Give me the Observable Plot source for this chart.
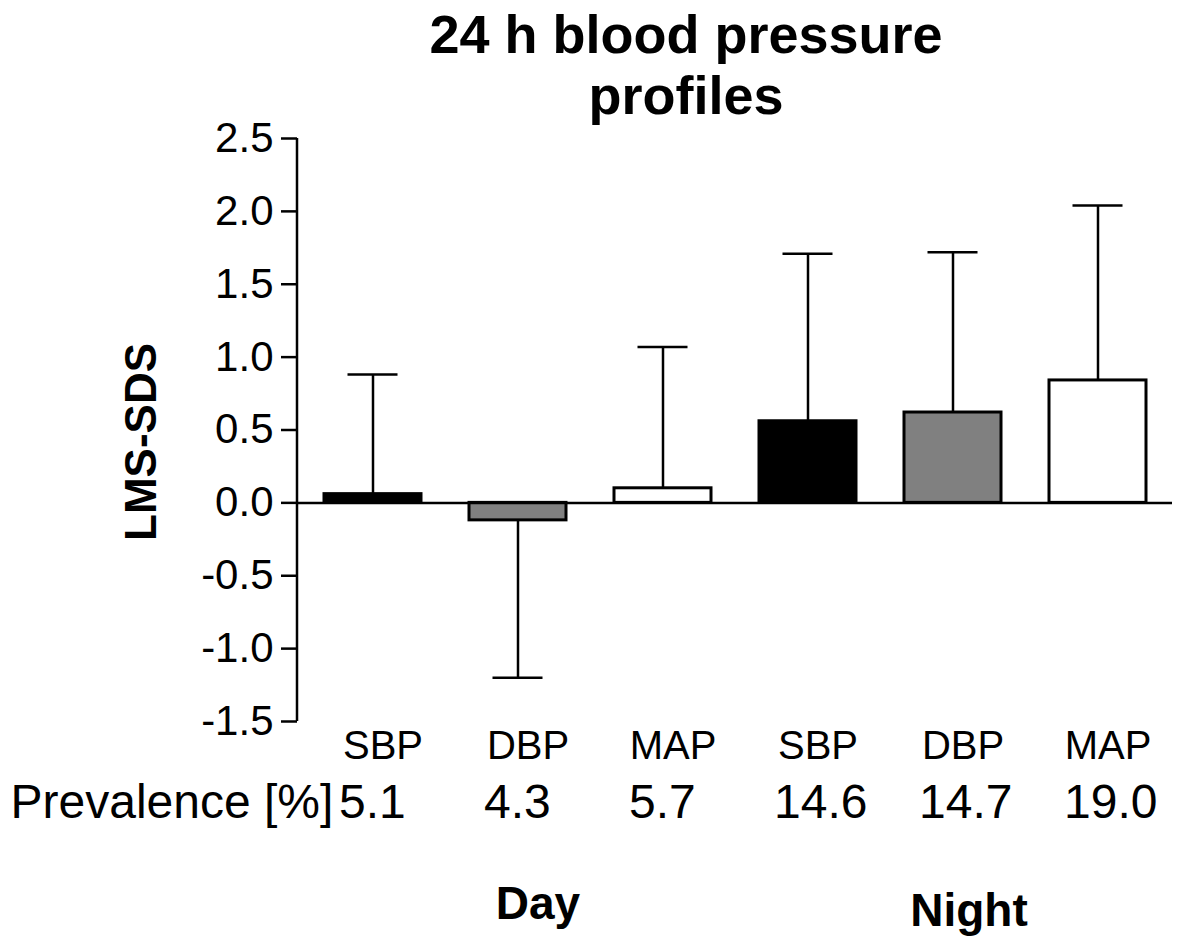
<!DOCTYPE html>
<html>
<head>
<meta charset="utf-8">
<script src="https://cdn.jsdelivr.net/npm/d3@7"></script>
<script src="https://cdn.jsdelivr.net/npm/@observablehq/plot@0.6"></script>
<style>
  html, body { margin: 0; padding: 0; background: white; }
  #title {
    box-sizing: border-box;
    width: 1178px; height: 110px; overflow: visible;
    padding-top: 4px; padding-left: 194px;
    font-family: "Liberation Sans", Arial, sans-serif;
    font-weight: bold; font-size: 54px; line-height: 61px;
    text-align: center; color: black;
  }
</style>
</head>
<body>
<div id="title">24 h blood pressure<br>profiles</div>
<div id="chart"></div>
<script>
// ---- data ----
const keys       = ["Day SBP", "Day DBP", "Day MAP", "Night SBP", "Night DBP", "Night MAP"];
const labels     = ["SBP", "DBP", "MAP", "SBP", "DBP", "MAP"];
const periods    = ["Day", "Day", "Day", "Night", "Night", "Night"];
const means      = [0.06, -0.12, 0.10, 0.56, 0.62, 0.84];
const sds        = [0.82, 1.08, 0.97, 1.15, 1.10, 1.20];
const fills      = ["black", "#808080", "white", "black", "#808080", "white"];
const prevalence = ["5.1", "4.3", "5.7", "14.6", "14.7", "19.0"];
const yTicks     = [-1.5, -1.0, -0.5, 0.0, 0.5, 1.0, 1.5, 2.0, 2.5];
const groupLabels = ["Day", "Night"];
const groupAt     = ["Day DBP", "Night DBP"];
const groupDx     = [20, 16];
const groupDy     = [197, 204];

const rows = keys.map((k, i) => ({
  key: k, label: labels[i], period: periods[i], mean: means[i], sd: sds[i],
  end: means[i] + Math.sign(means[i]) * sds[i], fill: fills[i], prev: prevalence[i]
}));
const groups = groupLabels.map((g, i) => ({label: g, at: groupAt[i], dx: groupDx[i], dy: groupDy[i]}));

const font = "'Liberation Sans', Arial, sans-serif";

const yAxisLine = (index, scales, values, dimensions) => {
  const x = dimensions.marginLeft;
  return d3.create("svg:line")
    .attr("x1", x).attr("x2", x)
    .attr("y1", scales.y(yTicks[yTicks.length - 1]))
    .attr("y2", scales.y(yTicks[0]))
    .attr("stroke", "black").attr("stroke-width", 2.5)
    .node();
};

const chart = Plot.plot({
  width: 1178,
  height: 833,
  marginLeft: 297,
  marginRight: 6,
  marginTop: 28,
  marginBottom: 222,
  style: {fontFamily: font, fontSize: "42px", color: "black", background: "white"},
  x: {domain: keys, paddingInner: 1/3, paddingOuter: 1/6, axis: null},
  y: {domain: [-1.5, 2.5], axis: null},
  marks: [
    Plot.ruleX(rows, {x: "key", y1: "mean", y2: "end", stroke: "black", strokeWidth: 2.5}),
    Plot.tickY(rows, {x: "key", y: "end", stroke: "black", strokeWidth: 2.5, insetLeft: 23.5, insetRight: 23.5}),
    Plot.barY(rows, {x: "key", y: "mean", fill: "fill", stroke: "black", strokeWidth: 3}),
    Plot.ruleY([0], {stroke: "black", strokeWidth: 2.5}),
    Plot.axisY({ticks: yTicks, tickFormat: d => d.toFixed(1), tickSize: 16, tickPadding: 8,
                fontSize: 42, strokeWidth: 2.5, label: null}),
    yAxisLine,
    Plot.text(["LMS-SDS"], {frameAnchor: "left", rotate: -90, dx: -142, dy: 12, lineAnchor: "bottom",
                textAnchor: "middle", fontSize: 44, fontWeight: "bold", fill: "black"}),
    Plot.text(rows, {x: "key", text: "label", frameAnchor: "bottom", lineAnchor: "bottom",
                dy: 37, dx: 10, fontSize: 40, fill: "black"}),
    Plot.text(["Prevalence [%]"], {frameAnchor: "bottom-left", textAnchor: "start", lineAnchor: "bottom",
                dx: -287, dy: 96, fontSize: 48, fill: "black"}),
    Plot.text(rows, {x: "key", text: "prev", frameAnchor: "bottom", lineAnchor: "bottom", textAnchor: "start",
                dx: -34, dy: 96, fontSize: 48, fill: "black"}),
    Plot.text(groups.slice(0, 1), {x: "at", text: "label", frameAnchor: "bottom", lineAnchor: "bottom",
                dx: groups[0].dx, dy: groups[0].dy, fontSize: 46, fontWeight: "bold", fill: "black"}),
    Plot.text(groups.slice(1), {x: "at", text: "label", frameAnchor: "bottom", lineAnchor: "bottom",
                dx: groups[1].dx, dy: groups[1].dy, fontSize: 46, fontWeight: "bold", fill: "black"})
  ]
});
document.getElementById("chart").appendChild(chart);
</script>
</body>
</html>
